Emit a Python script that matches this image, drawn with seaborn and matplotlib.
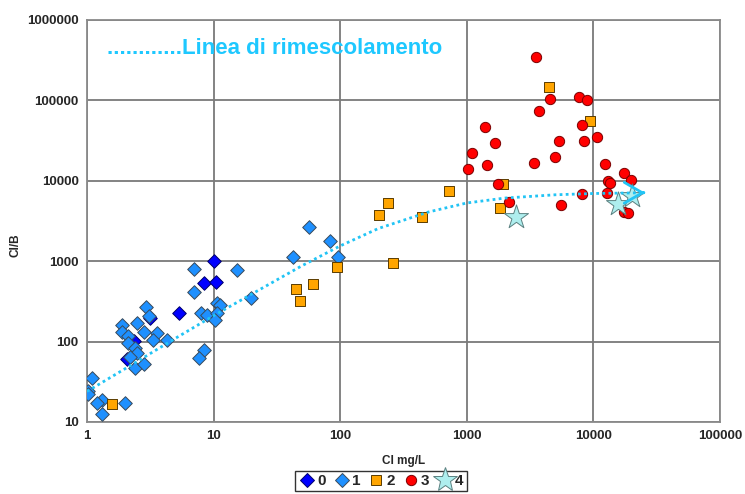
import matplotlib
matplotlib.use("Agg")
import matplotlib.pyplot as plt
from matplotlib.lines import Line2D
from matplotlib.ticker import FixedLocator, FixedFormatter, NullLocator
import seaborn as sns
import pandas as pd

# ---------------- data ----------------
g0_cl = [10.0, 8.4, 10.4, 5.3, 2.35, 2.07, 3.15]
g0_ratio = [1000, 537, 553, 228, 102, 61, 197]

g1_cl = [2.92, 3.09, 1.89, 2.48, 1.89, 2.11, 2.82, 3.57, 3.32, 4.29, 2.11, 2.39,
         2.48, 2.19, 2.39, 2.82, 1.10, 1.02, 1.02, 1.31, 1.20, 2.0, 1.31, 7.0,
         15.3, 7.0, 7.95, 8.87, 10.6, 11.2, 10.6, 10.3, 19.7, 8.4, 7.7, 56.7,
         83, 42.4, 96]
g1_ratio = [271, 209, 161, 171, 132, 118, 132, 128, 105, 105, 96, 84,
            72, 64, 47, 53, 35, 24, 22, 19, 17, 17, 12.6, 804,
            781, 416, 228, 215, 303, 287, 228, 186, 350, 79, 63, 2680,
            1795, 1135, 1135]

g2_cl = [1.58, 94, 61, 44.8, 48, 723, 239, 202, 443, 261, 4460, 9400, 1932, 1829]
g2_ratio = [16.8, 851, 523, 453, 321, 7530, 5340, 3780, 3570, 955, 148600,
            56000, 9200, 4620]

g3_cl = [3520, 4540, 7690, 8900, 3720, 1392, 8130, 1670, 5350, 8430, 10700,
         1100, 4970, 1022, 1445, 3400, 12350, 17450, 19800, 13040, 13520, 1763,
         8130, 12800, 2155, 5550, 17450, 18760]
g3_ratio = [351000, 105000, 111000, 102000, 74600, 47200, 50000, 29800, 31600,
            31600, 35400, 22400, 19950, 14200, 15900, 16800, 16300, 12600, 10300,
            10030, 9470, 9200, 6910, 7110, 5490, 5040, 4120, 4010]

g4_cl = [2448, 15640, 20180]
g4_ratio = [3570, 5190, 6520]

# mixing line, points
mix_cl = [1, 2, 5, 10, 20, 50, 100, 200, 500, 1000, 2000, 5000, 10000, 25600]
mix_ratio = [24, 46, 110, 210, 390, 880, 1550, 2550, 4100, 5300, 6100, 6700, 6950, 7100]

group_labels = ["0", "1", "2", "3", "4"]
x_ticks = [1, 10, 100, 1000, 10000, 100000]
x_tick_labels = ["1", "10", "100", "1000", "10000", "100000"]
y_ticks = [10, 100, 1000, 10000, 100000, 1000000]
y_tick_labels = ["10", "100", "1000", "10000", "100000", "1000000"]

# ---------------- style ----------------
sns.set_style("white")
plt.rcParams["font.family"] = ["Liberation Sans", "DejaVu Sans"]

fig = plt.figure(figsize=(7.45, 4.94), dpi=100)
ax = fig.add_axes([87 / 745, 1 - 422 / 494, (720 - 87) / 745, (422 - 20) / 494])

styles = {
    "0": dict(marker="D", color="#0000ff", edge="#00006a", s=48),
    "1": dict(marker="D", color="#1e90ff", edge="#3a4a5a", s=48),
    "2": dict(marker="s", color="#ffa500", edge="#5a3c00", s=48),
    "3": dict(marker="o", color="#ff0000", edge="#7a0000", s=55),
    "4": dict(marker="*", color="#aeeeee", edge="#5a8080", s=330),
}
series = {"0": (g0_cl, g0_ratio), "1": (g1_cl, g1_ratio), "2": (g2_cl, g2_ratio),
          "3": (g3_cl, g3_ratio), "4": (g4_cl, g4_ratio)}

for i, g in enumerate(group_labels):
    cl, rt = series[g]
    df = pd.DataFrame({"Cl": cl, "ratio": rt})
    st = styles[g]
    sns.scatterplot(data=df, x="Cl", y="ratio", ax=ax, marker=st["marker"],
                    color=st["color"], edgecolor=st["edge"], linewidth=0.7,
                    s=st["s"], zorder=3 + i, legend=False)

mix_df = pd.DataFrame({"Cl": mix_cl, "ratio": mix_ratio})
sns.lineplot(data=mix_df, x="Cl", y="ratio", ax=ax, color="#22c4f5",
             linestyle=(0, (1, 1.2)), linewidth=2.0, zorder=10, estimator=None,
             sort=False)
ax.annotate("", xy=(mix_cl[-1], mix_ratio[-1]),
            xytext=(mix_cl[-1] * 0.97, mix_ratio[-1]),
            arrowprops=dict(arrowstyle="->,head_length=1.3,head_width=0.75",
                            color="#22c4f5", lw=2.0), zorder=11)

ax.set_xscale("log")
ax.set_yscale("log")
ax.set_xlim(1, 100000)
ax.set_ylim(10, 1000000)
ax.xaxis.set_major_locator(FixedLocator(x_ticks))
ax.xaxis.set_major_formatter(FixedFormatter(x_tick_labels))
ax.yaxis.set_major_locator(FixedLocator(y_ticks))
ax.yaxis.set_major_formatter(FixedFormatter(y_tick_labels))
ax.xaxis.set_minor_locator(NullLocator())
ax.yaxis.set_minor_locator(NullLocator())

ax.grid(True, which="major", color="#7a7a7a", linewidth=1.3)
ax.set_axisbelow(True)
for sp in ax.spines.values():
    sp.set_color("#8a8a8a")
    sp.set_linewidth(1.3)
ax.tick_params(axis="both", which="major", length=4, width=1.2, color="#8a8a8a",
               labelsize=9.5, pad=2)
for lbl in ax.get_xticklabels() + ax.get_yticklabels():
    lbl.set_fontweight("bold")

ax.set_xlabel("Cl mg/L", fontsize=8.5, fontweight="bold", labelpad=9)
ax.set_ylabel("Cl/B", fontsize=8.5, fontweight="bold")
ax.yaxis.set_label_coords(-0.103, 0.44)

ax.text(107 / 745, 1 - 49 / 494, "............Linea di rimescolamento",
        transform=fig.transFigure, color="#1ec8ff", fontsize=16,
        fontweight="bold", va="center", ha="left")

handles = [Line2D([], [], linestyle="none", marker=styles[g]["marker"],
                  markerfacecolor=styles[g]["color"],
                  markeredgecolor=styles[g]["edge"], markeredgewidth=0.7,
                  markersize=styles[g]["s"] ** 0.5)
           for g in group_labels]
leg = fig.legend(handles, group_labels, loc="center", ncol=5,
                 bbox_to_anchor=(381 / 745, 1 - 481 / 494), frameon=True,
                 fancybox=False, handletextpad=0.05, columnspacing=0.45,
                 borderpad=0.2, handlelength=1.2, prop={"weight": "bold", "size": 11})
leg.get_frame().set_edgecolor("black")
leg.get_frame().set_linewidth(1.0)

fig.savefig("out.png", dpi=100)
